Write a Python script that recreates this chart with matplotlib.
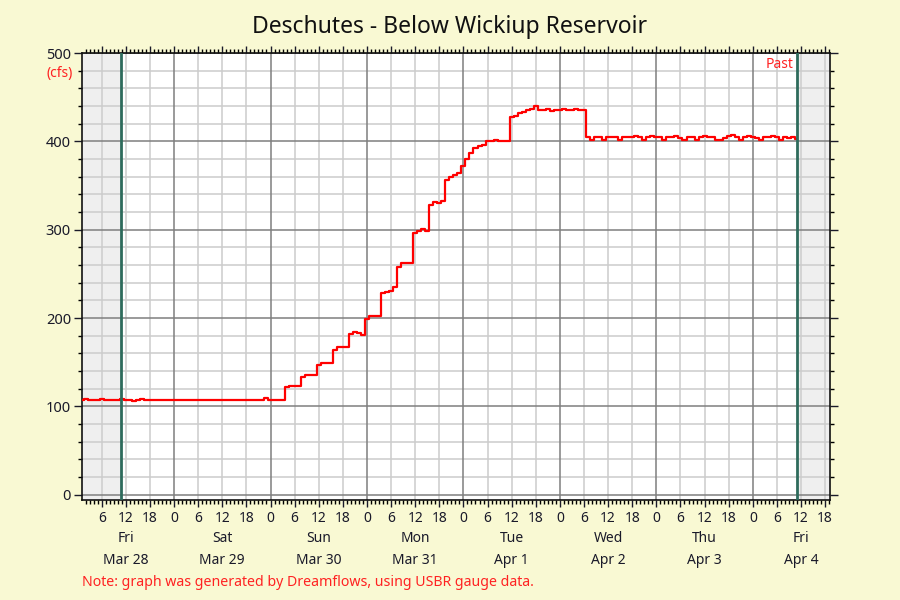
import matplotlib
matplotlib.use("Agg")
import matplotlib.pyplot as plt
from matplotlib.ticker import MultipleLocator, FuncFormatter

plt.rcParams['font.family'] = ['Noto Sans', 'DejaVu Sans']

# hours since Mar 28 00:00, hourly readings (cfs)
hours = list(range(1, 180))
flow = ([107, 108, 107, 107, 107, 108, 107, 107, 107, 107, 108, 107, 107, 106, 107, 108, 107, 107]
        + [107] * 28
        + [109]
        + [107, 107, 107, 107]
        + [122, 123, 123, 123]
        + [133, 135, 135, 135]
        + [147, 149, 149, 149]
        + [164, 167, 167, 167]
        + [182, 184, 183, 181]
        + [199, 202, 202, 202]
        + [228, 230, 231, 235]
        + [258, 262, 262, 262]
        + [296, 299, 301, 298]
        + [328, 331, 330, 333]
        + [356, 360, 362, 364]
        + [372, 380, 387, 393, 395, 396]
        + [400, 400, 401, 400, 400, 400]
        + [428, 429, 432, 433, 436, 437, 440]
        + [435, 436, 437, 434, 436, 436, 437, 435, 436, 437, 436, 436]
        + [405, 402, 405, 405, 401, 405, 405, 405, 401, 405,
           405, 405, 406, 405, 401, 405, 406, 405, 405, 401,
           405, 405, 406, 404, 401, 405, 405, 401, 405, 406,
           405, 405, 402, 401, 404, 406, 407, 405, 402, 405,
           406, 405, 404, 401, 405, 405, 406, 405, 401, 405,
           404, 405, 403])

day_names = ["Fri", "Sat", "Sun", "Mon", "Tue", "Wed", "Thu", "Fri"]
day_dates = ["Mar 28", "Mar 29", "Mar 30", "Mar 31", "Apr 1", "Apr 2", "Apr 3", "Apr 4"]
past_start = 10.8
past_end = 179.0
x_lo, x_hi = 1.1, 187.2

bg = "#f9f9d3"
red = "#ff0000"
green = "#2e6b5c"

fig = plt.figure(figsize=(9, 6), dpi=100, facecolor=bg)
ax = fig.add_axes([82/900, 1-500/600, (830-82)/900, (500-53)/600])
ax.set_facecolor("white")

ax.set_xlim(x_lo, x_hi)
ax.set_ylim(-6, 500)

ax.axvspan(x_lo, past_start, color="#efefef", zorder=0.1, lw=0)
ax.axvspan(past_end, x_hi, color="#efefef", zorder=0.1, lw=0)

ax.xaxis.set_major_locator(MultipleLocator(6))
ax.xaxis.set_minor_locator(MultipleLocator(1))
ax.xaxis.set_major_formatter(FuncFormatter(lambda v, p: "%d" % (int(round(v)) % 24)))
ax.yaxis.set_major_locator(MultipleLocator(100))
ax.yaxis.set_minor_locator(MultipleLocator(20))

# grid: dark at midnight / every 100 cfs, light at 6 h / every 20 cfs
for d in range(0, 8):
    ax.axvline(24 * d, color="#7f7f7f", lw=1.1, zorder=0.4)
for h in range(6, 188, 6):
    if h % 24:
        ax.axvline(h, color="#cccccc", lw=1.1, zorder=0.3)
for v in range(0, 501, 20):
    ax.axhline(v, color="#7f7f7f" if v % 100 == 0 else "#cccccc",
               lw=1.1, zorder=0.4 if v % 100 == 0 else 0.3)

ax.tick_params(axis="x", which="major", direction="out", length=5, width=1,
               top=True, labelsize=10, pad=3, colors="#1a1a2a")
ax.tick_params(axis="x", which="minor", direction="out", length=3, width=1, top=True)
ax.tick_params(axis="y", which="major", direction="out", length=6, width=1,
               right=True, labelsize=10.5, pad=2, colors="#1a1a2a")
ax.tick_params(axis="y", which="minor", direction="out", length=3, width=1, right=True)
for s in ax.spines.values():
    s.set_linewidth(1.2)
    s.set_color("#111111")

ax.plot(hours, flow, color=red, lw=1.6, drawstyle="steps-mid", zorder=3)

ax.axvline(past_start, color=green, lw=2, zorder=4)
ax.axvline(past_end, color=green, lw=2, zorder=4)

trans = ax.get_xaxis_transform()
for i, (dn, dd) in enumerate(zip(day_names, day_dates)):
    ax.text(12 + 24 * i, -38/447, dn, transform=trans, ha="center", va="center",
            fontsize=10, color="#1a1a2a")
    ax.text(12 + 24 * i, -61/447, dd, transform=trans, ha="center", va="center",
            fontsize=10, color="#1a1a2a")

ax.text(past_end - 0.8, 1 - 12/447, "Past", transform=trans, ha="right",
        va="center", fontsize=10, color="#ff2222")
fig.text(73/900, 1-73/600, "(cfs)", ha="right", va="center", fontsize=10, color="#ff2222")

fig.text(0.5, 1-27/600, "Deschutes - Below Wickiup Reservoir", ha="center",
         va="center", fontsize=16.5, color="#111111")
fig.text(82/900, 1-582/600, "Note: graph was generated by Dreamflows, using USBR gauge data.",
         ha="left", va="center", fontsize=10.2, color="#ff2222")

fig.savefig("out.png", dpi=100, facecolor=bg)
